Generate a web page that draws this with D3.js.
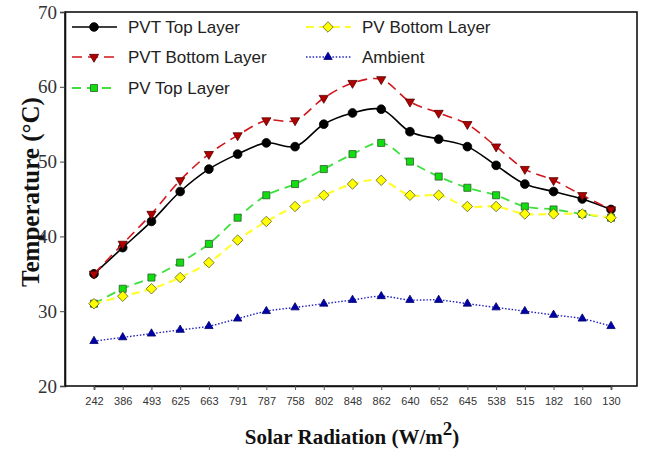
<!DOCTYPE html>
<html>
<head>
<meta charset="utf-8">
<script src="https://cdn.jsdelivr.net/npm/d3@7"></script>
<style>
  html, body { margin: 0; padding: 0; background: #fff; }
  svg { display: block; }
</style>
</head>
<body>
<svg id="chart" width="646" height="454"></svg>
<script>
// Solar radiation readings (W/m²) in measurement order
const radiation = ["242","386","493","625","663","791","787","758","802","848","862","640","652","645","538","515","182","160","130"];

// Temperatures (°C)
const pvtTop    = [35, 38.5, 42, 46, 49, 51, 52.5, 52, 55, 56.5, 57, 54, 53, 52, 49.5, 47, 46, 45, 43.6];
const pvtBottom = [35, 39, 43, 47.5, 51, 53.5, 55.5, 55.5, 58.5, 60.5, 61, 58, 56.5, 55, 52, 49, 47.5, 45.5, 43.6];
const pvTop     = [31, 33, 34.5, 36.5, 39, 42.5, 45.5, 47, 49, 51, 52.5, 50, 48, 46.5, 45.5, 44, 43.6, 43, 42.5];
const pvBottom  = [31, 32, 33, 34.5, 36.5, 39.5, 42, 44, 45.5, 47, 47.5, 45.5, 45.5, 44, 44, 43, 43, 43, 42.5];
const ambient   = [26, 26.5, 27, 27.5, 28, 29, 30, 30.5, 31, 31.5, 32, 31.5, 31.5, 31, 30.5, 30, 29.5, 29, 28];

const yTicks = [20, 30, 40, 50, 60, 70];

const series = [
  { name: "PVT Top Layer",    values: pvtTop,    stroke: "#000000", dash: null,    width: 1.6, symbol: d3.symbolCircle,   size: 60, fill: "#000000", edge: "#000000" },
  { name: "PVT Bottom Layer", values: pvtBottom, stroke: "#d0161c", dash: "10,6",  width: 1.6, symbol: "triDown",         size: 60, fill: "#b00000", edge: "#550000" },
  { name: "PV Top Layer",     values: pvTop,     stroke: "#3ee03e", dash: "9,6",   width: 1.8, symbol: d3.symbolSquare,   size: 50, fill: "#11dd11", edge: "#2c5a2c" },
  { name: "PV Bottom Layer",  values: pvBottom,  stroke: "#ffff30", dash: "8,5",   width: 2.2, symbol: d3.symbolDiamond2, size: 70, fill: "#ffff00", edge: "#5a5a20" },
  { name: "Ambient",          values: ambient,   stroke: "#2020c0", dash: "1.5,1.8", width: 1.4, symbol: d3.symbolTriangle2, size: 50, fill: "#0000aa", edge: "#000066" }
];

const svg = d3.select("#chart");
const plot = { left: 65, right: 637, top: 12, bottom: 386 };

const x = d3.scalePoint()
  .domain(radiation)
  .range([plot.left + 29, plot.right - 26]);

const y = d3.scaleLinear()
  .domain([20, 70])
  .range([plot.bottom, plot.top]);

// Frame
svg.append("rect")
  .attr("x", plot.left).attr("y", plot.top)
  .attr("width", plot.right - plot.left).attr("height", plot.bottom - plot.top)
  .attr("fill", "none").attr("stroke", "#111").attr("stroke-width", 1.6);

// Y axis
const yAxis = svg.append("g")
  .attr("transform", `translate(${plot.left},0)`)
  .call(d3.axisLeft(y).tickValues(yTicks).tickSize(5).tickPadding(3).tickFormat(d3.format("d")));
yAxis.select(".domain").attr("stroke", "#111").attr("stroke-width", 1.6);
yAxis.selectAll(".tick line").attr("stroke", "#444");
yAxis.selectAll(".tick text")
  .attr("font-family", "'Liberation Serif', 'Times New Roman', serif")
  .attr("font-size", 19).attr("fill", "#333");

// X axis
const xAxis = svg.append("g")
  .attr("transform", `translate(0,${plot.bottom})`)
  .call(d3.axisBottom(x).tickSize(4).tickPadding(7));
xAxis.select(".domain").attr("stroke", "#111").attr("stroke-width", 1.6);
xAxis.selectAll(".tick line").attr("stroke", "#555");
xAxis.selectAll(".tick text")
  .attr("font-family", "'Liberation Sans', Arial, sans-serif")
  .attr("font-size", 11).attr("fill", "#333");

// Axis titles
svg.append("text")
  .attr("transform", "translate(39,192) rotate(-90)")
  .attr("text-anchor", "middle")
  .attr("font-family", "'Liberation Serif', 'Times New Roman', serif")
  .attr("font-weight", "bold").attr("font-size", 25).attr("fill", "#111")
  .text("Temperature (°C)");

const xt = svg.append("text")
  .attr("x", 352).attr("y", 444)
  .attr("text-anchor", "middle")
  .attr("font-family", "'Liberation Serif', 'Times New Roman', serif")
  .attr("font-weight", "bold").attr("font-size", 21).attr("fill", "#111");
xt.append("tspan").text("Solar Radiation (W/m");
xt.append("tspan").attr("dy", -9).attr("font-size", 19).text("2");
xt.append("tspan").attr("dy", 9).text(")");

// Marker paths
function markerPath(s) {
  if (s.symbol === "triDown") {
    return d3.symbol().type(d3.symbolTriangle2).size(s.size)();
  }
  return d3.symbol().type(s.symbol).size(s.size)();
}
function markerTransform(s, px, py) {
  return s.symbol === "triDown" ? `translate(${px},${py}) rotate(180)` : `translate(${px},${py})`;
}

const line = d3.line()
  .x((d, i) => x(radiation[i]))
  .y(d => y(d))
  .curve(d3.curveCatmullRom.alpha(0.5));

// Series lines and markers
series.forEach(s => {
  const g = svg.append("g");
  g.append("path")
    .attr("d", line(s.values))
    .attr("fill", "none")
    .attr("stroke", s.stroke)
    .attr("stroke-width", s.width)
    .attr("stroke-dasharray", s.dash);
  g.selectAll("path.mk")
    .data(s.values)
    .join("path")
    .attr("class", "mk")
    .attr("d", markerPath(s))
    .attr("transform", (d, i) => markerTransform(s, x(radiation[i]), y(d)))
    .attr("fill", s.fill)
    .attr("stroke", s.edge)
    .attr("stroke-width", 0.8);
});

// Legend
const legendPos = [
  { x: 72, y: 27 }, { x: 72, y: 57 }, { x: 72, y: 88 },
  { x: 306, y: 27 }, { x: 306, y: 57 }
];
series.forEach((s, i) => {
  const p = legendPos[i];
  const g = svg.append("g").attr("transform", `translate(${p.x},${p.y})`);
  g.append("line")
    .attr("x1", 0).attr("x2", 45).attr("y1", 0).attr("y2", 0)
    .attr("stroke", s.stroke).attr("stroke-width", s.width)
    .attr("stroke-dasharray", s.dash);
  g.append("path")
    .attr("d", markerPath(s))
    .attr("transform", markerTransform(s, 22, 0))
    .attr("fill", s.fill).attr("stroke", s.edge).attr("stroke-width", 0.8);
  g.append("text")
    .attr("x", 56).attr("y", 6)
    .attr("font-family", "'Liberation Sans', Arial, sans-serif")
    .attr("font-size", 17).attr("fill", "#222")
    .text(s.name);
});
</script>
</body>
</html>
